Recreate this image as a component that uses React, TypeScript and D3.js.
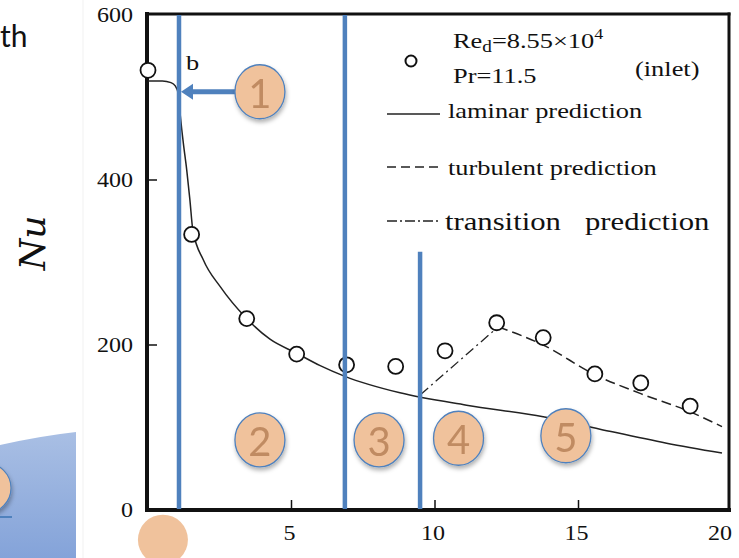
import React from 'react';
import * as d3 from 'd3';

// measured points (Nu vs x/d)
const expX = [0, 1.52, 3.44, 5.18, 6.92, 8.63, 10.35, 12.15, 13.77, 15.57, 17.17, 18.89];
const expNu = [533, 334, 232, 189, 176, 174, 193, 227, 209, 165, 154, 126];

const laminarX = [0, 0.5, 0.8, 0.95, 1.05, 1.12, 1.18, 1.23, 1.35, 1.46, 1.56, 1.93, 2.51, 3.41, 4.25, 5.18, 6.0, 6.86, 8.78, 11.1, 13.77, 15.75, 18.07, 20];
const laminarNu = [520, 520, 518, 514, 505, 480, 460, 445, 412, 376, 340, 303, 271, 233, 207, 190, 175, 162, 142, 127, 113, 98, 81, 69];

const turbX = [12.2, 13.77, 15.57, 17.17, 18.89, 20];
const turbNu = [222, 200, 164, 141, 119, 101];

const transX = [9.5, 12.2];
const transNu = [140, 222];

// blue region dividers: position and top value
const dividerX = [1.08, 6.86, 9.48];
const dividerTop = [600, 600, 313];

// numbered callouts
const regionLabels = ['1', '2', '3', '4', '5'];
const regionX = [3.9, 3.9, 8.05, 10.82, 14.56];
const regionNu = [507, 85, 85, 87, 90];

const xTicks = [0, 5, 10, 15, 20];
const yTicks = [0, 200, 400, 600];

const W = 739;
const H = 558;
const BLUE = '#4F81BD';
const PEACH = '#F0C29C';
const PEACH_TEXT = '#C08B62';
const SERIF = '"Liberation Serif", "Times New Roman", serif';
const SX = 1.2; // scanned text is stretched horizontally

const x = d3.scaleLinear().domain([0, 20]).range([148, 722]);
const y = d3.scaleLinear().domain([0, 600]).range([510, 15]);

const zip = (xs: number[], ys: number[]) => xs.map((v, i) => [v, ys[i]] as [number, number]);

const line = () => d3.line<[number, number]>()
    .x(d => x(d[0]))
    .y(d => y(d[1]));

const Stretched = ({ tx, ty, size = 22, anchor = 'start', sx = SX, children }: any) => (
    <text transform={`translate(${tx},${ty}) scale(${sx},1)`}
        fontFamily={SERIF} fontSize={size} textAnchor={anchor} fill="#111">
        {children}
    </text>
);

const Callout = ({ cx, cy, label }: { cx: number; cy: number; label: string }) => (
    <g filter="url(#shadow)">
        <ellipse cx={cx} cy={cy} rx={25} ry={27} fill={PEACH} stroke={BLUE} strokeWidth={1.3} />
        <text x={cx} y={cy + 1} textAnchor="middle" dominantBaseline="central"
            fontFamily="Lato, 'Open Sans', sans-serif" fontSize={40} fill={PEACH_TEXT}>{label}</text>
    </g>
);

export default function App() {
    const lamPath = line().curve(d3.curveMonotoneX)(zip(laminarX, laminarNu)) || '';
    const turbPath = line().curve(d3.curveMonotoneX)(zip(turbX, turbNu)) || '';
    const transPath = line()(zip(transX, transNu)) || '';

    const arrowY = y(regionNu[0]);
    const arrowTip = x(dividerX[0]) + 2;

    return (
        <svg width={W} height={H} style={{ position: 'fixed', left: 0, top: 0, background: '#fff' }}>
            <defs>
                <linearGradient id="slideBlue" x1="0" y1="0" x2="0" y2="1">
                    <stop offset="0" stopColor="#A9BFE4" />
                    <stop offset="1" stopColor="#84A3D9" />
                </linearGradient>
                <filter id="shadow" x="-30%" y="-30%" width="160%" height="170%">
                    <feDropShadow dx={1} dy={3} stdDeviation={2} floodColor="#000" floodOpacity={0.3} />
                </filter>
            </defs>

            {/* slide fragments on the left */}
            <text x={0} y={47} fontFamily="Lato, 'Open Sans', sans-serif" fontSize={30} fill="#111">th</text>
            <text transform="translate(45,243) rotate(-90)" textAnchor="middle"
                fontFamily='"DejaVu Serif", serif' fontStyle="italic" fontSize={36} fill="#111">Nu</text>
            <path d="M0,445 Q40,436 76,432 L76,558 L0,558 Z" fill="url(#slideBlue)" />
            <g filter="url(#shadow)">
                <circle cx={-14} cy={488} r={25} fill={PEACH} stroke={BLUE} strokeWidth={1.2} />
            </g>
            <line x1={0} x2={12} y1={517} y2={517} stroke={BLUE} strokeWidth={2} />
            <line x1={83} x2={83} y1={0} y2={H} stroke="#f1f1f1" strokeWidth={1} />

            {/* frame */}
            <g stroke="#111" fill="none" strokeLinecap="square">
                <line x1={147} x2={147} y1={14} y2={510} strokeWidth={4} />
                <line x1={147} x2={729} y1={510} y2={510} strokeWidth={4} />
                <line x1={147} x2={729} y1={14} y2={14} strokeWidth={3} />
                <line x1={729} x2={729} y1={14} y2={510} strokeWidth={3} />
            </g>

            {/* ticks */}
            <g stroke="#111" strokeWidth={1.5}>
                {yTicks.slice(1, -1).map(t => (
                    <line key={`yt${t}`} x1={147} x2={157} y1={y(t)} y2={y(t)} />
                ))}
                {xTicks.slice(1, -1).map(t => (
                    <line key={`xt${t}`} x1={x(t)} x2={x(t)} y1={510} y2={500} />
                ))}
            </g>
            {yTicks.map(t => (
                <Stretched key={`yl${t}`} tx={133} ty={y(t) + 7} size={20} anchor="end">{t}</Stretched>
            ))}
            {xTicks.map(t => (
                <Stretched key={`xl${t}`} tx={x(t) - 2} ty={540} size={20} anchor="middle">{t}</Stretched>
            ))}

            {/* prediction curves */}
            <path d={lamPath} fill="none" stroke="#222" strokeWidth={1.5} />
            <path d={turbPath} fill="none" stroke="#222" strokeWidth={1.5} strokeDasharray="10 5" />
            <path d={transPath} fill="none" stroke="#222" strokeWidth={1.3} strokeDasharray="10 4 2 4" />

            {/* measured points */}
            {expX.map((v, i) => (
                <circle key={`p${i}`} cx={x(v)} cy={y(expNu[i])} r={7.5}
                    fill="#fff" stroke="#111" strokeWidth={1.8} />
            ))}

            <Stretched tx={186} ty={70} size={22}>b</Stretched>

            {/* legend */}
            <circle cx={411} cy={61} r={5.5} fill="#fff" stroke="#111" strokeWidth={2} />
            <Stretched tx={453} ty={48} size={22}>
                Re<tspan fontSize={16} dy={4}>d</tspan><tspan dy={-4}>=8.55×10</tspan><tspan fontSize={15} dy={-9}>4</tspan>
            </Stretched>
            <Stretched tx={453} ty={83} size={22}>Pr=11.5</Stretched>
            <Stretched tx={635} ty={76} size={22}>(inlet)</Stretched>

            <line x1={387} x2={440} y1={114} y2={114} stroke="#222" strokeWidth={1.5} />
            <Stretched tx={448} ty={118} size={22}>laminar prediction</Stretched>

            <line x1={387} x2={440} y1={167} y2={167} stroke="#222" strokeWidth={1.5} strokeDasharray="9 5" />
            <Stretched tx={448} ty={175} size={22}>turbulent prediction</Stretched>

            <line x1={387} x2={440} y1={221} y2={221} stroke="#222" strokeWidth={1.3} strokeDasharray="10 3 2 3" />
            <Stretched tx={445} ty={230} size={26} sx={1.18}>transition</Stretched>
            <Stretched tx={585} ty={230} size={26} sx={1.18}>prediction</Stretched>

            {/* region dividers */}
            {dividerX.map((v, i) => (
                <line key={`d${i}`} x1={x(v)} x2={x(v)} y1={y(dividerTop[i])} y2={509}
                    stroke={BLUE} strokeWidth={4.5} />
            ))}

            {/* arrow from callout 1 to first divider */}
            <line x1={x(regionX[0]) - 24} x2={arrowTip + 10} y1={arrowY} y2={arrowY} stroke={BLUE} strokeWidth={5} />
            <path d={`M${arrowTip},${arrowY} L${arrowTip + 12},${arrowY - 8} L${arrowTip + 12},${arrowY + 8} Z`} fill={BLUE} />

            {regionLabels.map((lab, i) => (
                <Callout key={`c${lab}`} cx={x(regionX[i])} cy={y(regionNu[i])} label={lab} />
            ))}

            {/* callout cut off at the bottom edge */}
            <circle cx={x(0.52)} cy={y(-36)} r={25} fill={PEACH} />
        </svg>
    );
}
